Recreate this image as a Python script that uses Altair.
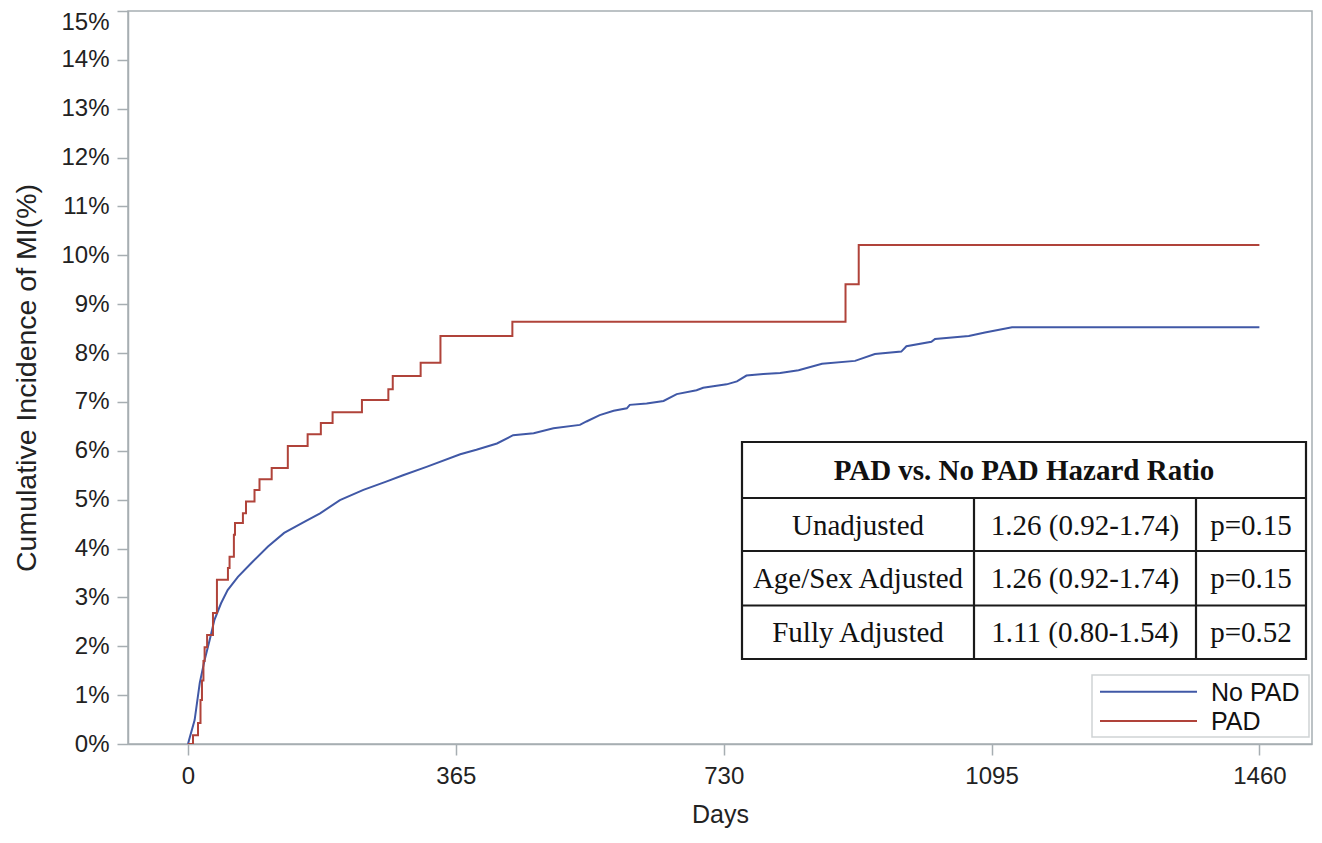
import altair as alt
import pandas as pd

# ---------------- data ----------------
series_names = ["No PAD", "PAD"]
series_colors = ["#4058a6", "#b0433a"]

nopad_days = [0, 1.4, 9, 16, 22.6, 29.5, 36, 45, 54, 68, 86, 109, 131, 159, 180, 207, 239,
              270, 293, 325, 371, 393, 421, 443, 471, 498, 534, 543, 561, 580, 598, 602,
              625, 648, 666, 693, 702, 734, 748, 761, 784, 807, 832, 864, 909, 936, 972,
              979, 1013, 1018, 1064, 1086, 1123, 1460]
nopad_pct = [0, 0.08, 0.49, 1.25, 1.72, 2.13, 2.54, 2.88, 3.15, 3.42, 3.70, 4.04, 4.32, 4.55,
             4.72, 4.99, 5.20, 5.37, 5.50, 5.67, 5.93, 6.02, 6.15, 6.32, 6.36, 6.46, 6.53,
             6.60, 6.73, 6.82, 6.87, 6.94, 6.97, 7.02, 7.16, 7.24, 7.29, 7.36, 7.42, 7.54,
             7.57, 7.59, 7.65, 7.78, 7.84, 7.98, 8.03, 8.14, 8.23, 8.29, 8.35, 8.42, 8.53,
             8.53]

pad_days = [0, 6.8, 13.6, 17, 19, 21, 22.6, 26, 34, 39.4, 54.4, 56.6, 62.5, 64, 74.8, 79,
            90.6, 97.4, 114, 136, 163, 181, 197, 237, 273, 279, 317, 344, 442, 896, 914, 1460]
pad_pct = [0, 0.18, 0.43, 0.90, 1.30, 1.70, 1.98, 2.23, 2.68, 3.36, 3.60, 3.83, 4.28, 4.52,
           4.72, 4.96, 5.20, 5.42, 5.65, 6.10, 6.34, 6.57, 6.79, 7.04, 7.26, 7.53, 7.80,
           8.35, 8.64, 9.41, 10.21, 10.21]

x_ticks = [0, 365, 730, 1095, 1460]
y_ticks = list(range(0, 16))

table_title = "PAD vs. No PAD Hazard Ratio"
table_models = ["Unadjusted", "Age/Sex Adjusted", "Fully Adjusted"]
table_hr = ["1.26 (0.92-1.74)", "1.26 (0.92-1.74)", "1.11 (0.80-1.54)"]
table_p = ["p=0.15", "p=0.15", "p=0.52"]

x_title = "Days"
y_title = "Cumulative Incidence of MI(%)"

# ---------------- layout ----------------
W, H = 1184, 733
AXIS_GRAY = "#a7aeb2"
TEXT = "#222222"
SANS = "Liberation Sans"
SERIF = "Liberation Serif"

x_scale = alt.Scale(domain=[-81.8, 1531.7], nice=False, zero=False)
y_scale = alt.Scale(domain=[0, 15], nice=False, zero=True)

x_axis = alt.Axis(values=x_ticks, title=x_title, format="d", labelPadding=9,
                  titlePadding=14, labelFlush=False, titleFontSize=25)
y_axis = alt.Axis(values=y_ticks, title=y_title, labelExpr="datum.value + '%'",
                  labelPadding=8, titlePadding=19, titleFontSize=28.5,
                  labelOffset={"condition": {"test": "datum.value == 15", "value": 11},
                               "value": 0})

df_nopad = pd.DataFrame({"day": nopad_days, "pct": nopad_pct})
df_pad = pd.DataFrame({"day": pad_days, "pct": pad_pct})

line_nopad = alt.Chart(df_nopad).mark_line(
    color=series_colors[0], strokeWidth=2, interpolate="linear", clip=True
).encode(
    x=alt.X("day:Q", scale=x_scale, axis=x_axis),
    y=alt.Y("pct:Q", scale=y_scale, axis=y_axis),
)

line_pad = alt.Chart(df_pad).mark_line(
    color=series_colors[1], strokeWidth=2, interpolate="step-after", clip=True
).encode(
    x=alt.X("day:Q", scale=x_scale),
    y=alt.Y("pct:Q", scale=y_scale),
)

layers = [line_nopad, line_pad]

# ---- hazard-ratio table (pixel layout inside the plot area) ----
tl, tr = 614, 1178
tt, tb = 431, 648
row_lines = [487, 540, 594.5]
col_lines = [846, 1068]
one = pd.DataFrame({"k": [0]})

layers.append(
    alt.Chart(one).mark_rect(fill="white", stroke="#1a1a1a", strokeWidth=2.2).encode(
        x=alt.value(tl), x2=alt.value(tr), y=alt.value(tt), y2=alt.value(tb)
    )
)
for ry in row_lines:
    layers.append(
        alt.Chart(one).mark_rule(color="#1a1a1a", strokeWidth=2.2).encode(
            x=alt.value(tl), x2=alt.value(tr), y=alt.value(ry)
        )
    )
for cx in col_lines:
    layers.append(
        alt.Chart(one).mark_rule(color="#1a1a1a", strokeWidth=2.2).encode(
            x=alt.value(cx), y=alt.value(row_lines[0]), y2=alt.value(tb)
        )
    )

def text_layer(txt, x, y, font, size, weight="normal", align="center"):
    return alt.Chart(pd.DataFrame({"t": [txt]})).mark_text(
        font=font, fontSize=size, fontWeight=weight, align=align, baseline="middle",
        color="#111111"
    ).encode(text="t:N", x=alt.value(x), y=alt.value(y))

layers.append(text_layer(table_title, (tl + tr) / 2, (tt + row_lines[0]) / 2 + 1, SERIF, 29, "bold"))
row_edges = [row_lines[0], row_lines[1], row_lines[2], tb]
col_centers = [(tl + col_lines[0]) / 2, (col_lines[0] + col_lines[1]) / 2, (col_lines[1] + tr) / 2]
for i in range(3):
    cy = (row_edges[i] + row_edges[i + 1]) / 2 + 1
    for j, val in enumerate([table_models[i], table_hr[i], table_p[i]]):
        layers.append(text_layer(val, col_centers[j], cy, SERIF, 29))

# ---- legend box ----
lx1, lx2, ly1, ly2 = 964, 1181, 664, 726
layers.append(
    alt.Chart(one).mark_rect(fill="white", stroke="#cfd3d5", strokeWidth=1.5).encode(
        x=alt.value(lx1), x2=alt.value(lx2), y=alt.value(ly1), y2=alt.value(ly2)
    )
)
leg_y = [680.7, 710]
for name, col, yy in zip(series_names, series_colors, leg_y):
    layers.append(
        alt.Chart(one).mark_rule(color=col, strokeWidth=2).encode(
            x=alt.value(972), x2=alt.value(1069), y=alt.value(yy)
        )
    )
    layers.append(text_layer(name, 1083, yy + 1, SANS, 25, align="left"))

chart = alt.layer(*layers).properties(
    width=W, height=H,
    autosize=alt.AutoSizeParams(type="none"),
    padding={"left": 120, "top": 3, "right": 2, "bottom": 84},
).configure_view(
    stroke=AXIS_GRAY, strokeWidth=1.5
).configure_axis(
    grid=False, domainColor=AXIS_GRAY, domainWidth=1.5, tickColor=AXIS_GRAY,
    tickWidth=1.5, tickSize=11, labelFont=SANS, labelFontSize=24, labelColor=TEXT,
    titleFont=SANS, titleFontWeight="normal", titleColor=TEXT,
)

chart.save("out.html", embed_options={"renderer": "svg", "actions": False})
